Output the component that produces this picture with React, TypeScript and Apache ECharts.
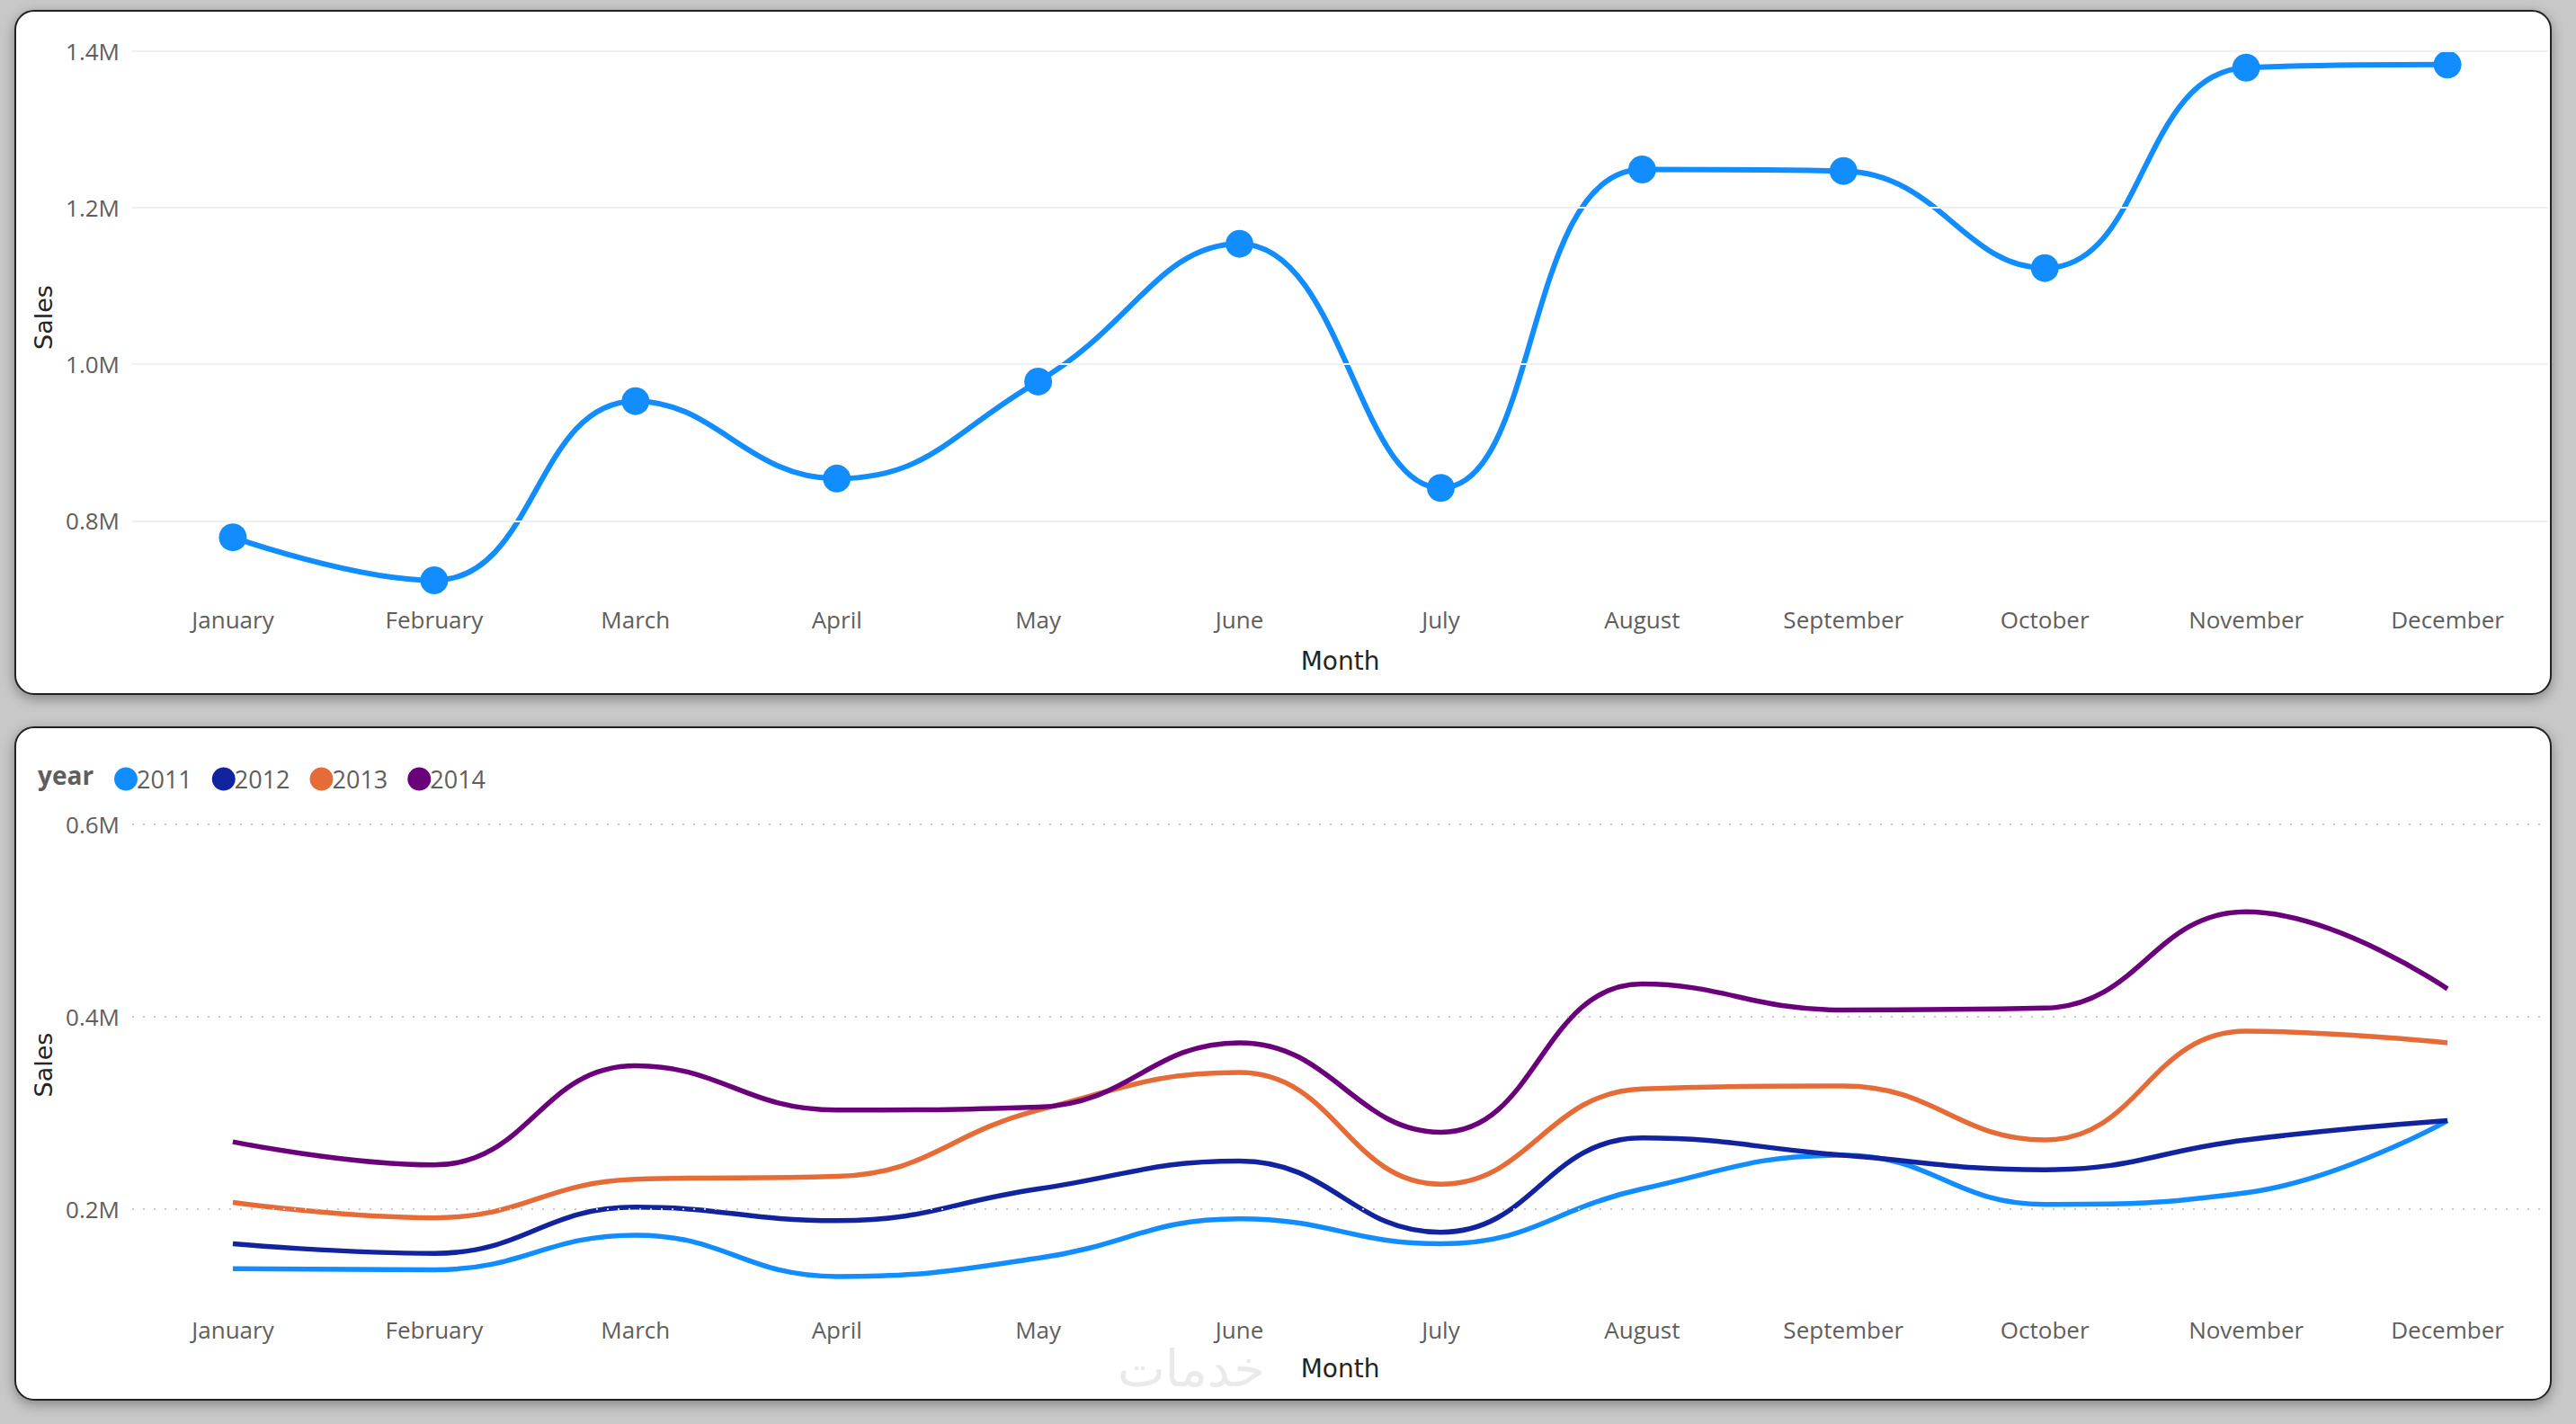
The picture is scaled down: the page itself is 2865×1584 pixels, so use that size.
import { useEffect, useRef, type ReactElement } from "react";
import * as echarts from "echarts";

const months = [
  "January", "February", "March", "April", "May", "June",
  "July", "August", "September", "October", "November", "December",
];

// total sales per month (top chart)
const totalSales = [
  779000, 724000, 953000, 854000, 978000, 1154000,
  842000, 1249000, 1247000, 1123000, 1379000, 1383000,
];

const years = ["2011", "2012", "2013", "2014"];
const sales2011 = [138000, 137000, 173000, 130000, 149000, 190000, 164000, 221000, 256000, 205000, 217000, 292000];
const sales2012 = [164000, 154000, 202000, 188000, 221000, 250000, 176000, 274000, 256000, 241000, 272000, 292000];
const sales2013 = [207000, 191000, 231000, 234000, 303000, 342000, 226000, 325000, 328000, 272000, 385000, 373000];
const sales2014 = [270000, 246000, 349000, 303000, 306000, 373000, 280000, 434000, 407000, 409000, 509000, 429000];
const yearColors = ["#118DFF", "#12239E", "#E66C37", "#6B007B"];

const topTicks = [800000, 1000000, 1200000, 1400000];
const bottomTicks = [200000, 400000, 600000];

const FONT = "'Open Sans', 'DejaVu Sans', sans-serif";
const TITLE_FONT = "'DejaVu Sans', sans-serif";

const fmtM = (v: number) => `${(v / 1e6).toFixed(1)}M`;

function useChart(build: () => echarts.EChartsOption, w: number, h: number) {
  const ref = useRef<HTMLDivElement>(null);
  useEffect(() => {
    if (!ref.current) return;
    const chart = echarts.init(ref.current, undefined, { renderer: "svg", width: w, height: h });
    chart.setOption(build());
    return () => chart.dispose();
  }, []);
  return ref;
}

function axisCommon(bottomMin: number, max: number, interval: number, ticks: number[], gap: number) {
  return {
    type: "value" as const,
    min: bottomMin,
    max,
    interval,
    name: "Sales",
    nameLocation: "middle" as const,
    nameGap: gap,
    nameTextStyle: { fontFamily: TITLE_FONT, fontSize: 27, color: "#252423" },
    splitLine: { show: false },
    axisLine: { show: false },
    axisTick: { show: false },
    axisLabel: {
      fontFamily: FONT,
      fontSize: 26,
      color: "#605E5C",
      margin: 14,
      formatter: (v: number) => (ticks.some((t) => Math.abs(t - v) < 1) ? fmtM(v) : ""),
    },
  };
}

function xCommon(margin: number, gap: number) {
  return {
    type: "category" as const,
    data: months,
    name: "Month",
    nameLocation: "middle" as const,
    nameGap: gap,
    nameTextStyle: { fontFamily: TITLE_FONT, fontSize: 28, color: "#252423" },
    axisLine: { show: false },
    axisTick: { show: false },
    axisLabel: { fontFamily: FONT, fontSize: 26, color: "#605E5C", margin },
  };
}

const panelStyle = (top: number, height: number): React.CSSProperties => ({
  position: "absolute",
  left: 16,
  top,
  width: 2822,
  height,
  background: "#fff",
  border: "2px solid #222",
  borderRadius: 22,
  boxSizing: "border-box",
  overflow: "hidden",
  boxShadow: "0 4px 14px rgba(0,0,0,0.35)",
});

export default function App(): ReactElement {
  useEffect(() => {
    document.body.style.margin = "0";
  }, []);

  const topRef = useChart(
    () => ({
      animation: false,
      grid: { left: 129, right: 2, top: 44, bottom: 122 },
      xAxis: xCommon(27, 72),
      yAxis: axisCommon(720000, 1400000, 40000, topTicks, 76),
      series: [
        {
          type: "line",
          data: totalSales,
          smooth: 0.45,
          symbol: "circle",
          symbolSize: 31,
          itemStyle: { color: "#118DFF" },
          lineStyle: { width: 6, color: "#118DFF" },
          markLine: {
            silent: true,
            symbol: "none",
            label: { show: false },
            lineStyle: { color: "#F0F0F0", width: 2, type: "solid" },
            data: topTicks.map((t) => ({ yAxis: t })),
          },
        },
      ],
    }),
    2818,
    758,
  );

  const bottomRef = useChart(
    () => ({
      animation: false,
      grid: { left: 129, right: 2, top: 107, bottom: 104 },
      legend: {
        left: 104,
        top: 38,
        icon: "circle",
        itemWidth: 26,
        itemHeight: 26,
        itemGap: 22,
        textStyle: { fontFamily: FONT, fontSize: 27, color: "#605E5C", padding: [0, 0, 0, -6] },
        data: years,
      },
      graphic: [
        {
          type: "text",
          left: 24,
          top: 38,
          style: { text: "year", fontFamily: FONT, fontSize: 28, fontWeight: "bold", fill: "#605E5C" },
        },
        {
          type: "text",
          left: 1225,
          top: 684,
          z: -1,
          style: { text: "خدمات", fontFamily: "'DejaVu Sans', sans-serif", fontSize: 56, fill: "#EAEAEA" },
        },
      ],
      xAxis: xCommon(14, 56),
      yAxis: axisCommon(100000, 600000, 100000, bottomTicks, 76),
      series: [sales2011, sales2012, sales2013, sales2014].map((d, i) => ({
        type: "line" as const,
        name: years[i],
        data: d,
        smooth: 0.45,
        showSymbol: false,
        itemStyle: { color: yearColors[i] },
        lineStyle: { width: 5.5, color: yearColors[i] },
        markLine:
          i === 0
            ? {
                silent: true,
                symbol: "none",
                label: { show: false },
                lineStyle: { color: "#C8C8C8", width: 2, type: [2, 10] },
                data: bottomTicks.map((t) => ({ yAxis: t })),
              }
            : undefined,
      })),
    }),
    2818,
    746,
  );

  return (
    <div style={{ position: "relative", width: 2865, height: 1584, background: "#C8C8C8", overflow: "hidden" }}>
      <div style={panelStyle(11, 762)}>
        <div ref={topRef} style={{ width: 2818, height: 758 }} />
      </div>
      <div style={panelStyle(808, 750)}>
        <div ref={bottomRef} style={{ width: 2818, height: 746 }} />
      </div>
    </div>
  );
}
